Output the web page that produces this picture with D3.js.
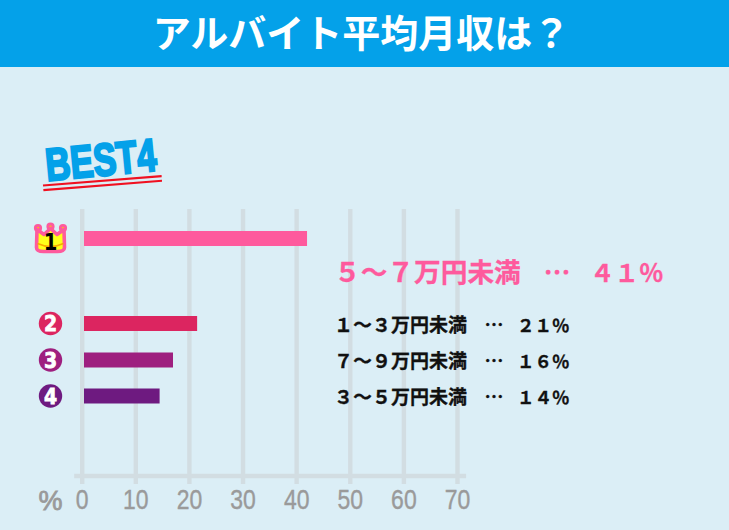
<!DOCTYPE html>
<html lang="ja">
<head>
<meta charset="utf-8">
<script src="https://cdnjs.cloudflare.com/ajax/libs/d3/7.8.5/d3.min.js"></script>
<style>
	html, body { margin: 0; padding: 0; background: #dbeef6; }
	svg { display: block; }
	text { font-family: "Noto Sans CJK JP", sans-serif; }
</style>
</head>
<body>
<div id="chart"></div>
<script>
//////////////////////////// data /////////////////////////////////////////

const titleText = "アルバイト平均月収は？";
const bestText = "BEST";
const bestNumber = "4";
// the source sets these in full-width digits
const categories = ["５～７万円未満", "１～３万円未満", "７～９万円未満", "３～５万円未満"];
const ranks = ["1", "2", "3", "4"];
const barValues = [41.6, 21.1, 16.6, 14.1];
const percentLabels = ["４１％", "２１％", "１６％", "１４％"];
const tickValues = [0, 10, 20, 30, 40, 50, 60, 70];
const barColors = ["#fe5a9d", "#dc2560", "#9e1f7f", "#6e1a80"];

//////////////////////////// set up svg ///////////////////////////////////

const width = 729;
const height = 530;

const svg = d3.select("#chart").append("svg")
	.attr("width", width)
	.attr("height", height);

svg.append("rect").attr("width", width).attr("height", height).attr("fill", "#dbeef6");
svg.append("rect").attr("width", width).attr("height", 67).attr("fill", "#04a1e9");

svg.append("text")
	.attr("x", 361.5)
	.attr("y", 47)
	.attr("text-anchor", "middle")
	.attr("fill", "#fff")
	.attr("font-size", 38)
	.attr("font-weight", 700)
	.text(titleText);

//////////////////////////// BEST4 ////////////////////////////////////////

const best = svg.append("g").attr("transform", "translate(47,181) rotate(-5.5)");
best.append("text")
	.attr("transform", "scale(0.75,1)")
	.attr("fill", "#04a1e9")
	.attr("stroke", "#04a1e9")
	.attr("stroke-width", 2.4)
	.style("font-family", "Liberation Sans")
	.attr("font-size", 46)
	.attr("font-weight", 700)
	.text(bestText + bestNumber);
svg.append("g").attr("transform", "translate(43,185.5) rotate(-4.5)")
	.selectAll("line")
	.data([0, 4.6])
	.join("line")
	.attr("x2", 119)
	.attr("y1", (d) => d)
	.attr("y2", (d) => d)
	.attr("stroke", "#f01020")
	.attr("stroke-width", 2.2);

//////////////////////////// scales ///////////////////////////////////////

const xScale = d3.scaleLinear().domain([0, 70]).range([81.7, 457]);
const barStart = 84;
const yScale = d3.scaleOrdinal().domain(categories).range([238.5, 323.5, 360, 396]);
const barHeight = 15;

//////////////////////////// axis /////////////////////////////////////////

const axis = svg.append("g")
	.attr("transform", "translate(0,484)")
	.call(d3.axisBottom(xScale)
		.tickValues(tickValues)
		.tickSize(-275)
		.tickSizeOuter(0));

axis.select(".domain").remove();
axis.selectAll(".tick line").attr("stroke", "#d2dde2").attr("stroke-width", 4.4);
axis.selectAll(".tick text")
	.attr("y", 25)
	.attr("dy", 0)
	.attr("transform", "scale(0.82,1)")
	.attr("fill", "#9a9a9a")
	.attr("stroke", "#9a9a9a")
	.attr("stroke-width", 0.4)
	.style("font-family", "Liberation Sans")
	.attr("font-size", 28);

svg.append("line")
	.attr("x1", xScale(-1.4))
	.attr("x2", xScale(71.7))
	.attr("y1", 476)
	.attr("y2", 476)
	.attr("stroke", "#d2dde2")
	.attr("stroke-width", 4.4);

svg.append("text")
	.attr("x", 50.5)
	.attr("y", 510)
	.attr("text-anchor", "middle")
	.attr("fill", "#9a9a9a")
	.attr("stroke", "#9a9a9a")
	.attr("stroke-width", 0.8)
	.style("font-family", "Liberation Sans")
	.attr("font-size", 27)
	.text("%");

//////////////////////////// bars /////////////////////////////////////////

svg.selectAll(".bar")
	.data(categories)
	.join("rect")
	.attr("class", "bar")
	.attr("x", barStart)
	.attr("y", (d) => yScale(d) - barHeight / 2)
	.attr("width", (d, i) => xScale(barValues[i]) - xScale(0))
	.attr("height", barHeight)
	.attr("fill", (d, i) => barColors[i]);

//////////////////////////// rank badges //////////////////////////////////

const crown = svg.append("g").attr("transform", `translate(50.5,${yScale(categories[0])})`);
crown.selectAll("circle")
	.data([-12.5, 0, 12.5])
	.join("circle")
	.attr("cx", (d) => d)
	.attr("cy", (d) => (d === 0 ? -12 : -10.5))
	.attr("r", 2.6)
	.attr("fill", "#f7d000")
	.attr("stroke", "#fe5a9d")
	.attr("stroke-width", 3);
crown.append("path")
	.attr("d", "M-13.5,-9 L-6.5,-4 L0,-10 L6.5,-4 L13.5,-9 L14,9 Q14,13 7,13 L-7,13 Q-14,13 -14,9 Z")
	.attr("fill", "#ffff1a")
	.attr("stroke", "#fe5a9d")
	.attr("stroke-width", 3.6)
	.attr("stroke-linejoin", "round");
crown.append("path")
	.attr("d", "M-13,5 Q0,11 13,5")
	.attr("fill", "none")
	.attr("stroke", "#f7a800")
	.attr("stroke-width", 1.5);
crown.append("text")
	.attr("y", 11.5)
	.attr("text-anchor", "middle")
	.attr("transform", "scale(0.85,1)")
	.attr("fill", "#000")
	.style("font-family", "DejaVu Sans")
	.attr("font-size", 23)
	.attr("font-weight", 700)
	.text(ranks[0]);

const badges = svg.selectAll(".badge")
	.data(categories.slice(1))
	.join("g")
	.attr("class", "badge")
	.attr("transform", (d) => `translate(50.5,${yScale(d)})`);
badges.append("circle")
	.attr("r", 11.7)
	.attr("fill", (d, i) => barColors[i + 1]);
badges.append("text")
	.attr("y", 7.5)
	.attr("text-anchor", "middle")
	.attr("transform", "scale(0.9,1)")
	.attr("fill", "#fff")
	.attr("stroke", "#fff")
	.attr("stroke-width", 0.8)
	.style("font-family", "DejaVu Sans")
	.attr("font-size", 21)
	.attr("font-weight", 700)
	.text((d, i) => ranks[i + 1]);

//////////////////////////// labels ///////////////////////////////////////

const labelRows = [
	{ y: 282, size: 26.7, valueSize: 24.5, color: barColors[0], dotsX: 557, valueX: 590 },
	{ y: yScale(categories[1]) + 8, size: 19, valueSize: 17.5, color: "#111", dotsX: 494, valueX: 517 },
	{ y: yScale(categories[2]) + 8, size: 19, valueSize: 17.5, color: "#111", dotsX: 494, valueX: 517 },
	{ y: yScale(categories[3]) + 8, size: 19, valueSize: 17.5, color: "#111", dotsX: 494, valueX: 517 }
];

const labels = svg.selectAll(".label")
	.data(categories)
	.join("g")
	.attr("class", "label")
	.attr("fill", (d, i) => labelRows[i].color)
	.attr("stroke", (d, i) => labelRows[i].color)
	.attr("stroke-width", 0.3)
	.attr("font-size", (d, i) => labelRows[i].size)
	.attr("font-weight", 700);
labels.append("text")
	.attr("x", 334)
	.attr("y", (d, i) => labelRows[i].y)
	.text((d) => d);
labels.append("text")
	.attr("x", (d, i) => labelRows[i].dotsX)
	.attr("y", (d, i) => labelRows[i].y)
	.attr("text-anchor", "middle")
	.text("…");
labels.append("text")
	.attr("x", (d, i) => labelRows[i].valueX)
	.attr("y", (d, i) => labelRows[i].y)
	.attr("font-size", (d, i) => labelRows[i].valueSize)
	.text((d, i) => percentLabels[i]);
</script>
</body>
</html>
